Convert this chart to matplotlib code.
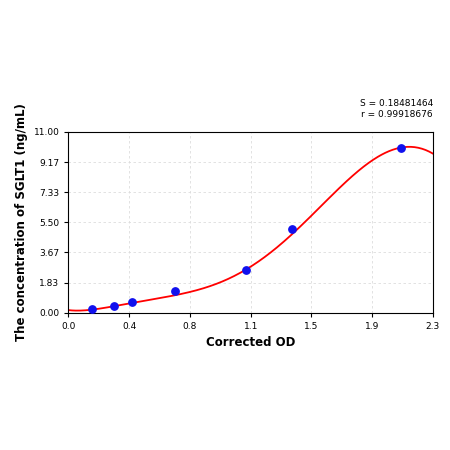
import numpy as np
import matplotlib
matplotlib.use("Agg")
import matplotlib.pyplot as plt

od = [0.15, 0.29, 0.40, 0.67, 1.12, 1.41, 2.10]
conc = [0.20, 0.40, 0.65, 1.30, 2.60, 5.10, 10.00]
curve_x = [0.0, 0.2, 0.4, 0.6, 0.8, 1.0, 1.1, 1.3, 1.5, 1.7, 1.9, 2.0, 2.1, 2.2, 2.3]
curve_y = [0.15, 0.3, 0.55, 0.9, 1.4, 2.05, 2.5, 3.8, 5.6, 7.5, 9.15, 9.75, 10.05, 10.0, 9.7]
xtick_labels = ["0.0", "0.4", "0.8", "1.1", "1.5", "1.9", "2.3"]
ytick_labels = ["0.00", "1.83", "3.67", "5.50", "7.33", "9.17", "11.00"]

fig = plt.figure(figsize=(4.5, 4.5), dpi=100)
ax = fig.add_axes([0.152, 0.305, 0.81, 0.402])
coef = np.polyfit(curve_x, curve_y, 6)
xs = np.linspace(0, 2.3, 300)
ax.plot(xs, np.polyval(coef, xs), color="red", lw=1.3, zorder=2)
ax.scatter(od, conc, s=28, color="#1010ee", zorder=3)
ax.set_xlim(0, 2.3)
ax.set_ylim(0, 11)
ax.set_xticks(np.linspace(0, 2.3, 7))
ax.set_xticklabels(xtick_labels)
ax.set_yticks(np.linspace(0, 11, 7))
ax.set_yticklabels(ytick_labels)
ax.tick_params(labelsize=6.5, length=3)
ax.grid(True, color="#dddddd", lw=0.6, ls=(0, (3, 3)))
ax.set_axisbelow(True)
ax.set_xlabel("Corrected OD", fontsize=8.5, fontweight="bold")
ax.set_ylabel("The concentration of SGLT1 (ng/mL)", fontsize=8.5, fontweight="bold")
fig.text(0.962, 0.765, "S = 0.18481464", ha="right", fontsize=6.5)
fig.text(0.962, 0.74, "r = 0.99918676", ha="right", fontsize=6.5)
fig.savefig("out.png")
